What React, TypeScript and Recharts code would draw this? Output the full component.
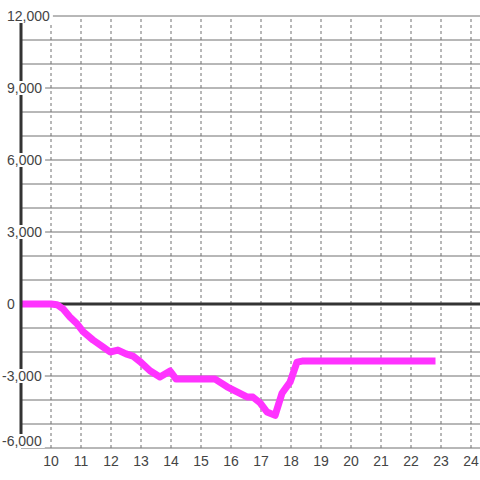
import { LineChart, Line, XAxis, YAxis, CartesianGrid, ReferenceLine } from 'recharts';

const hours = [9, 10, 10.2, 10.4, 10.63, 10.85, 11.07, 11.4, 11.73, 11.97, 12.23, 12.5, 12.73, 12.97, 13.3, 13.63, 13.97, 14.17, 15.47, 15.87, 16.2, 16.53, 16.73, 16.97, 17.2, 17.47, 17.7, 17.97, 18.2, 18.37, 22.7];
const values = [0, 0, -30, -200, -540, -800, -1150, -1500, -1790, -2000, -1920, -2080, -2170, -2400, -2780, -3040, -2790, -3130, -3130, -3450, -3660, -3870, -3880, -4120, -4500, -4640, -3720, -3250, -2420, -2380, -2380];
const xTicks = [10, 11, 12, 13, 14, 15, 16, 17, 18, 19, 20, 21, 22, 23, 24];
const yTicks = [-6000, -5000, -4000, -3000, -2000, -1000, 0, 1000, 2000, 3000, 4000, 5000, 6000, 7000, 8000, 9000, 10000, 11000, 12000];

const data = hours.map((h, i) => ({ h, v: values[i] }));

const FONT = '"Liberation Sans", Arial, sans-serif';

// label width estimate for the white backing box
function labelWidth(s: string) {
  let w = 0;
  for (const c of s) w += c === ',' ? 3.9 : c === '-' ? 4.7 : 7.8;
  return w;
}

function YTick(props: any) {
  const { payload } = props;
  const v = payload.value as number;
  if (v % 3000 !== 0) return <g />;
  // bottom label sits a little above its gridline
  const y = v === -6000 ? props.y - 7 : props.y;
  const text = v.toLocaleString('en-US');
  const x = v < 0 ? 2 : 7;
  const w = labelWidth(text);
  return (
    <g>
      <rect x={x - 1} y={y - 7} width={w + 4} height={14} fill="#ffffff" />
      <text x={x} y={y} dy="0.35em" textAnchor="start" fill="#444" fontSize={14} fontFamily={FONT}>
        {text}
      </text>
    </g>
  );
}

export default function App() {
  return (
    <div style={{ position: 'absolute', left: 0, top: 0, background: '#fff' }}>
      <LineChart width={480} height={480} data={data} margin={{ top: 16, right: 0, bottom: 0, left: 0 }}>
        <CartesianGrid vertical={false} stroke="#707070" />
        {xTicks.map((t) => (
          <ReferenceLine key={t} x={t} stroke="#707070" strokeDasharray="3 3" />
        ))}
        <XAxis
          dataKey="h"
          type="number"
          domain={[9, 24.3]}
          ticks={xTicks}
          allowDataOverflow
          axisLine={false}
          tickLine={false}
          height={32}
          tick={{ fontSize: 14, fill: '#444', fontFamily: FONT }}
        />
        <YAxis
          type="number"
          domain={[-6000, 12000]}
          ticks={yTicks}
          width={21}
          interval={0}
          axisLine={{ stroke: '#333', strokeWidth: 3 }}
          tickLine={false}
          tick={<YTick />}
        />
        <ReferenceLine y={0} stroke="#333" strokeWidth={3} />
        <Line
          type="linear"
          dataKey="v"
          stroke="#ff33ff"
          strokeWidth={7}
          strokeLinecap="square"
          strokeLinejoin="round"
          dot={false}
          isAnimationActive={false}
        />
      </LineChart>
    </div>
  );
}
